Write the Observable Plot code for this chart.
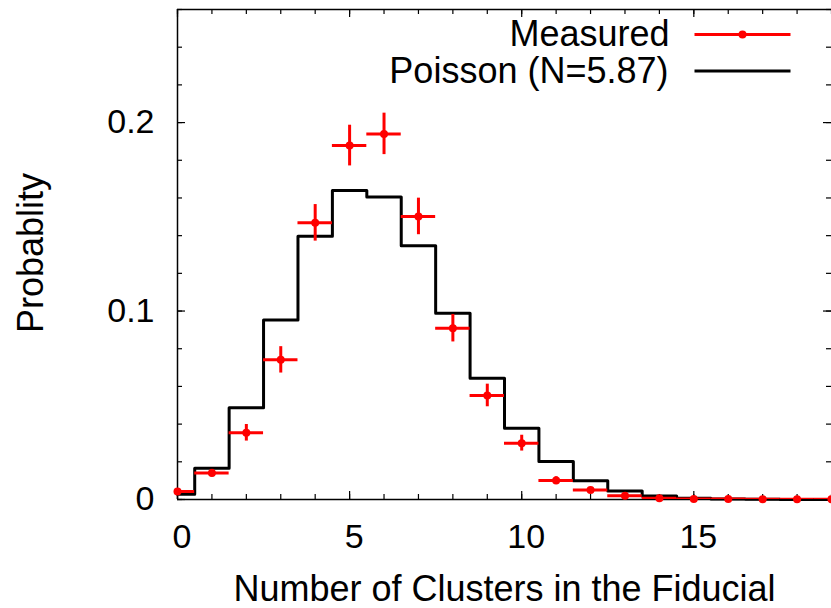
<!DOCTYPE html>
<html>
<head>
<meta charset="utf-8">
<script src="https://cdn.jsdelivr.net/npm/d3@7"></script>
<script src="https://cdn.jsdelivr.net/npm/@observablehq/plot@0.6"></script>
<style>
  html, body { margin: 0; padding: 0; background: #fff; }
  #chart { width: 831px; height: 608px; }
</style>
</head>
<body>
<div id="chart"></div>
<script>
// ---- data ----
const clusters = [0, 1, 2, 3, 4, 5, 6, 7, 8, 9, 10, 11, 12, 13, 14, 15, 16, 17, 18, 19];
const measured = [0.0042, 0.0140, 0.0354, 0.0741, 0.1468, 0.1878, 0.1940, 0.1502, 0.0909, 0.0552,
                  0.0299, 0.0101, 0.0051, 0.0020, 0.0007, 0.0003, 0.0002, 0.0001, 0.0001, 0.0001];
const measuredErr = [0.0010, 0.0020, 0.0044, 0.0070, 0.0097, 0.0108, 0.0110, 0.0097, 0.0073, 0.0060,
                     0.0042, 0.0020, 0.0010, 0.0005, 0.0003, 0.0002, 0.0001, 0.0001, 0.0001, 0.0001];
const binHalfWidth = 0.5;
const poisson = [0.0028, 0.0166, 0.0487, 0.0952, 0.1397, 0.1640, 0.1605, 0.1346, 0.0988, 0.0644,
                 0.0378, 0.0202, 0.0099, 0.0045, 0.0019, 0.0007, 0.0003, 0.0001, 0.0000, 0.0000];
const seriesNames = ["Measured", "Poisson (N=5.87)"];
const xTickLabels = [0, 5, 10, 15];
const xMinorTicks = [0, 1, 2, 3, 4, 5, 6, 7, 8, 9, 10, 11, 12, 13, 14, 15, 16, 17, 18, 19];
const yTickLabels = [0, 0.1, 0.2];
const yMinorTicks = [0, 0.02, 0.04, 0.06, 0.08, 0.1, 0.12, 0.14, 0.16, 0.18, 0.2, 0.22, 0.24, 0.26];
const xDomain = [0, 19];
const yDomain = [0, 0.26];
const xTitle = "Number of Clusters in the Fiducial";
const yTitle = "Probablity";

// ---- tables ----
const measTable = clusters.map((k, i) => ({k, y: measured[i], e: measuredErr[i]}));
const poisTable = clusters.map((k, i) => ({k, y: poisson[i]}));

// ---- layout ----
const W = 831, H = 608;
const mL = 177, mR = 0, mT = 9, mB = 109;
const innerW = W - mL - mR, innerH = H - mT - mB;
const RED = "#ff0000";
const FS = 34;      // tick labels
const FT = 36;      // titles & legend
const font = "'Liberation Sans', Arial, Helvetica, sans-serif";

const majorLen = 8, minorLen = 5;

const chart = Plot.plot({
  width: W,
  height: H,
  marginLeft: mL,
  marginRight: mR,
  marginTop: mT,
  marginBottom: mB,
  style: {fontFamily: font, fontSize: FS + "px", background: "#fff", overflow: "visible"},
  x: {domain: xDomain},
  y: {domain: yDomain},
  marks: [
    // frame (left, top, bottom)
    Plot.ruleX([xDomain[0]], {x: d => d, stroke: "#000", strokeWidth: 1.5}),
    Plot.ruleY([yDomain[0]], {y: d => d, stroke: "#000", strokeWidth: 1.5}),
    Plot.ruleY([yDomain[1]], {y: d => d, stroke: "#000", strokeWidth: 1.5}),
    // inward ticks: bottom & top
    Plot.ruleX(xMinorTicks, {x: d => d, insetTop: innerH - minorLen, stroke: "#000", strokeWidth: 1.2}),
    Plot.ruleX(xMinorTicks, {x: d => d, insetBottom: innerH - minorLen, stroke: "#000", strokeWidth: 1.2}),
    Plot.ruleX(xTickLabels, {x: d => d, insetTop: innerH - majorLen, stroke: "#000", strokeWidth: 1.2}),
    Plot.ruleX(xTickLabels, {x: d => d, insetBottom: innerH - majorLen, stroke: "#000", strokeWidth: 1.2}),
    // inward ticks: left & right
    Plot.ruleY(yMinorTicks, {y: d => d, insetRight: innerW - minorLen, stroke: "#000", strokeWidth: 1.2}),
    Plot.ruleY(yMinorTicks, {y: d => d, insetLeft: innerW - minorLen, stroke: "#000", strokeWidth: 1.2}),
    Plot.ruleY(yTickLabels, {y: d => d, insetRight: innerW - majorLen, stroke: "#000", strokeWidth: 1.2}),
    Plot.ruleY(yTickLabels, {y: d => d, insetLeft: innerW - majorLen, stroke: "#000", strokeWidth: 1.2}),
    // tick labels
    Plot.axisX({ticks: xTickLabels, tickSize: 0, tickPadding: 24, dx: 4.5, fontSize: FS, label: null,
                tickFormat: d => String(d), fill: "#000"}),
    Plot.axisY({ticks: yTickLabels, tickSize: 0, tickPadding: 23, fontSize: FS, label: null,
                tickFormat: d => String(d), fill: "#000"}),
    // axis titles
    Plot.text([xTitle], {text: d => d, frameAnchor: "bottom", dy: 101, lineAnchor: "bottom",
                         textAnchor: "middle", fontSize: FT, fill: "#000"}),
    Plot.text([yTitle], {text: d => d, frameAnchor: "left", rotate: -90, dx: -135, dy: -1.5,
                         lineAnchor: "bottom", textAnchor: "middle", fontSize: FT, fill: "#000"}),
    // Poisson step line
    Plot.line(poisTable, {x: "k", y: "y", curve: "step", stroke: "#000", strokeWidth: 3}),
    // measured: x error bars (clipped to frame), y error bars, points
    Plot.ruleY(measTable, {y: "y", x1: d => d.k - binHalfWidth, x2: d => d.k + binHalfWidth,
                           stroke: RED, strokeWidth: 3, clip: true}),
    Plot.ruleX(measTable, {x: "k", y1: d => d.y - d.e, y2: d => d.y + d.e, stroke: RED, strokeWidth: 3}),
    Plot.dot(measTable, {x: "k", y: "y", r: 4, fill: RED, stroke: "none"}),
    // legend
    Plot.text([seriesNames[0]], {text: d => d, frameAnchor: "top-right", dx: -162, dy: 36.7,
                                 textAnchor: "end", lineAnchor: "bottom", fontSize: FT, fill: "#000"}),
    Plot.text([seriesNames[1]], {text: d => d, frameAnchor: "top-right", dx: -163, dy: 73.5,
                                 textAnchor: "end", lineAnchor: "bottom", fontSize: FT, fill: "#000"}),
    Plot.frame({fill: RED, stroke: "none", insetLeft: 694 - mL, insetRight: W - 790,
                insetTop: 34 - 1.5 - mT, insetBottom: (H - mB) - (34 + 1.5)}),
    Plot.dot([0], {frameAnchor: "top-right", dx: -89, dy: 34 - mT, r: 4, fill: RED, stroke: "none"}),
    Plot.frame({fill: "#000", stroke: "none", insetLeft: 694 - mL, insetRight: W - 790,
                insetTop: 70.5 - 1.5 - mT, insetBottom: (H - mB) - (70.5 + 1.5)})
  ]
});
document.getElementById("chart").appendChild(chart);
</script>
</body>
</html>
